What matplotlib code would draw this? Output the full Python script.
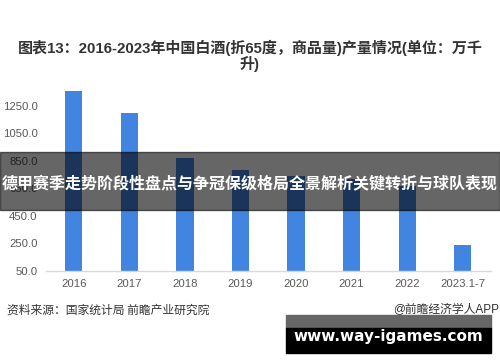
import matplotlib
matplotlib.use("Agg")
import matplotlib.pyplot as plt
from matplotlib.patches import Rectangle

plt.rcParams['font.family'] = ['Liberation Sans', 'Noto Sans CJK SC', 'DejaVu Sans']

#------------------------------------------------------data
years = ["2016", "2017", "2018", "2019", "2020", "2021", "2022", "2023.1-7"]
output = [1358.4, 1198.1, 871.2, 785.9, 740.7, 715.6, 671.2, 238.0]
yticks = [50, 250, 450, 650, 850, 1050, 1250]

title = "图表13：2016-2023年中国白酒(折65度，商品量)产量情况(单位：万千\n升)"
source = "资料来源：国家统计局 前瞻产业研究院"
credit = "@前瞻经济学人APP"
banner = "德甲赛季走势阶段性盘点与争冠保级格局全景解析关键转折与球队表现"
site = "www.way-igames.com"

#------------------------------------------------------figure
fig = plt.figure(figsize=(5.0, 3.62), dpi=100)
ax = fig.add_axes([0.092, 0.2514, 0.889, 0.532])

x = range(len(years))
ax.bar(x, [v - 50 for v in output], bottom=50, width=0.31, color="#4185e0", zorder=2)

ax.set_xlim(-0.5, len(years) - 0.5)
ax.set_ylim(50, 1450)
ax.set_yticks(yticks)
ax.set_yticklabels([f"{t:.1f}" for t in yticks])
ax.set_xticks(list(x))
ax.set_xticklabels(years)
ax.tick_params(length=0, labelsize=8.2, colors="#595959", pad=6)
ax.tick_params(axis="y", pad=6)
for s in ["top", "right", "left"]:
    ax.spines[s].set_visible(False)
ax.spines["bottom"].set_color("#d9d9d9")
ax.spines["bottom"].set_linewidth(1)

#------------------------------------------------------texts
fig.text(0.5, 1 - 56 / 362, title, ha="center", va="center", fontsize=10.8,
         fontweight="bold", color="#333333", linespacing=1.0)
fig.text(0.014, 1 - 310 / 362, source, ha="left", va="center", fontsize=8.5, color="#333333",
         family=['Noto Sans CJK SC', 'DejaVu Sans'])
fig.text(0.999, 1 - 310 / 362, credit, ha="right", va="center", fontsize=8.5, color="#333333")

#------------------------------------------------------overlays
fig.patches.append(Rectangle((0, 1 - 210 / 362), 1, 58 / 362, transform=fig.transFigure,
                             color="black", alpha=0.6, zorder=5))
fig.text(0.5, 1 - 183 / 362, banner, ha="center", va="center", fontsize=11.5,
         fontweight="bold", color="white", zorder=6, family=['Noto Sans CJK SC', 'DejaVu Sans'])

fig.patches.append(Rectangle((286 / 500, 1 - 328 / 362), 205 / 500, 13 / 362,
                             transform=fig.transFigure, color="#666666", zorder=5))
fig.patches.append(Rectangle((286 / 500, 1 - 353 / 362), 205 / 500, 25 / 362,
                             transform=fig.transFigure, color="black", zorder=5))
fig.text(388 / 500, 1 - 337 / 362, site, ha="center", va="center", fontsize=11,
         fontweight="bold", color="white", family="DejaVu Sans", zorder=6)

fig.savefig("out.png", dpi=100)
